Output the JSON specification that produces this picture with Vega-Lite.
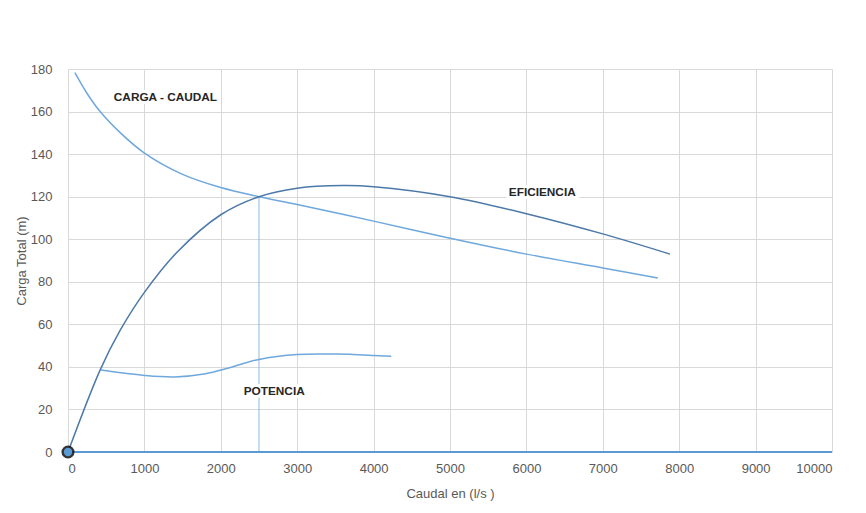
{
  "$schema": "https://vega.github.io/schema/vega-lite/v6.json",
  "width": 764,
  "height": 383,
  "autosize": {"type": "none"},
  "padding": {"left": 68, "top": 69, "right": 34, "bottom": 61},
  "background": "white",
  "config": {
    "view": {"stroke": null},
    "font": "Liberation Sans",
    "axis": {
      "labelColor": "#595959",
      "titleColor": "#595959",
      "labelFontSize": 13,
      "titleFontSize": 13,
      "titleFontWeight": "normal",
      "gridColor": "#d9d9d9",
      "gridWidth": 1,
      "domain": false,
      "ticks": false
    }
  },
  "datasets": {
    "curves": [
      {"s": "carga", "q": 90, "h": 178.3},
      {"s": "carga", "q": 250, "h": 168.5},
      {"s": "carga", "q": 420, "h": 160},
      {"s": "carga", "q": 700, "h": 149.5},
      {"s": "carga", "q": 1000, "h": 140.5},
      {"s": "carga", "q": 1500, "h": 130.5},
      {"s": "carga", "q": 2000, "h": 124.3},
      {"s": "carga", "q": 2500, "h": 120},
      {"s": "carga", "q": 3000, "h": 116.3},
      {"s": "carga", "q": 4000, "h": 108.5},
      {"s": "carga", "q": 5000, "h": 100.5},
      {"s": "carga", "q": 6000, "h": 93},
      {"s": "carga", "q": 7000, "h": 86.5},
      {"s": "carga", "q": 7720, "h": 81.8},
      {"s": "eficiencia", "q": 0, "h": 0},
      {"s": "eficiencia", "q": 420, "h": 38.5},
      {"s": "eficiencia", "q": 680, "h": 57},
      {"s": "eficiencia", "q": 1000, "h": 75},
      {"s": "eficiencia", "q": 1430, "h": 94},
      {"s": "eficiencia", "q": 2000, "h": 111.5},
      {"s": "eficiencia", "q": 2500, "h": 120},
      {"s": "eficiencia", "q": 3000, "h": 124},
      {"s": "eficiencia", "q": 3600, "h": 125.2},
      {"s": "eficiencia", "q": 4000, "h": 124.7},
      {"s": "eficiencia", "q": 5000, "h": 120},
      {"s": "eficiencia", "q": 6000, "h": 112},
      {"s": "eficiencia", "q": 7000, "h": 102.5},
      {"s": "eficiencia", "q": 7880, "h": 93},
      {"s": "potencia", "q": 430, "h": 38.5},
      {"s": "potencia", "q": 1000, "h": 36},
      {"s": "potencia", "q": 1400, "h": 35.3},
      {"s": "potencia", "q": 1800, "h": 36.8},
      {"s": "potencia", "q": 2100, "h": 39.5},
      {"s": "potencia", "q": 2500, "h": 43.5},
      {"s": "potencia", "q": 3000, "h": 45.8},
      {"s": "potencia", "q": 3500, "h": 46},
      {"s": "potencia", "q": 4000, "h": 45.4},
      {"s": "potencia", "q": 4230, "h": 45}
    ],
    "refs": [
      {"s": "vert", "q": 2500, "h": 0},
      {"s": "vert", "q": 2500, "h": 120},
      {"s": "base", "q": 0, "h": 0},
      {"s": "base", "q": 10000, "h": 0}
    ],
    "labels": [
      {"q": 600, "h": 167, "t": "CARGA - CAUDAL"},
      {"q": 5770, "h": 122, "t": "EFICIENCIA"},
      {"q": 2300, "h": 28.7, "t": "POTENCIA"}
    ],
    "origin": [{"q": 0, "h": 0}]
  },
  "encoding": {
    "x": {"field": "q", "type": "quantitative", "scale": {"domain": [0, 10000], "nice": false}, "axis": {"title": "Caudal en (l/s )", "format": "d", "labelOverlap": false, "values": [0,1000,2000,3000,4000,5000,6000,7000,8000,9000,10000], "labelPadding": 10, "titlePadding": 12}},
    "y": {"field": "h", "type": "quantitative", "scale": {"domain": [0, 180], "nice": false}, "axis": {"title": "Carga Total (m)", "values": [0,20,40,60,80,100,120,140,160,180], "labelPadding": 16, "titlePadding": 2}}
  },
  "layer": [
    {
      "data": {"name": "refs"},
      "mark": {"type": "line"},
      "encoding": {
        "detail": {"field": "s"},
        "color": {"field": "s", "type": "nominal", "scale": {"domain": ["vert", "base"], "range": ["#8dbae2", "#5b9bd5"]}, "legend": null},
        "strokeWidth": {"field": "s", "type": "nominal", "scale": {"domain": ["vert", "base"], "range": [1, 2]}, "legend": null}
      }
    },
    {
      "data": {"name": "curves"},
      "mark": {"type": "line", "interpolate": "catmull-rom", "strokeWidth": 1.5},
      "encoding": {
        "detail": {"field": "s"},
        "stroke": {"field": "s", "type": "nominal", "scale": {"domain": ["carga", "eficiencia", "potencia"], "range": ["#6fa8dc", "#4d79a8", "#6fa8dc"]}, "legend": null}
      }
    },
    {
      "data": {"name": "labels"},
      "mark": {"type": "text", "align": "left", "baseline": "middle", "fontWeight": "bold", "fontSize": 11.8, "stroke": "white", "strokeWidth": 6, "color": "white", "font": "Liberation Sans"},
      "encoding": {"text": {"field": "t"}}
    },
    {
      "data": {"name": "labels"},
      "mark": {"type": "text", "align": "left", "baseline": "middle", "fontWeight": "bold", "fontSize": 11.8, "color": "#262626", "font": "Liberation Sans"},
      "encoding": {"text": {"field": "t"}}
    },
    {
      "data": {"name": "origin"},
      "mark": {"type": "point", "filled": true, "size": 170, "color": "#111111", "opacity": 0.85},
      "encoding": {}
    },
    {
      "data": {"name": "origin"},
      "mark": {"type": "point", "filled": true, "size": 70, "color": "#5b9bd5", "opacity": 1},
      "encoding": {}
    }
  ]
}
